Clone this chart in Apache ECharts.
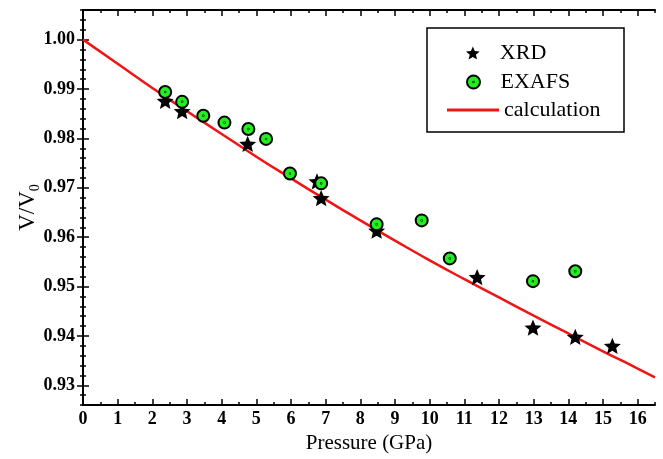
<!DOCTYPE html>
<html><head><meta charset="utf-8">
<script src="https://cdn.jsdelivr.net/npm/echarts@6/dist/echarts.min.js"></script>
<style>html,body{margin:0;padding:0;background:#fff}#c{width:663px;height:459px}</style>
</head><body><div id="c"></div>
<script>
// ---- data ----
const xrdP   = [2.37, 2.86, 4.75, 6.75, 6.87, 8.47, 11.37, 12.98, 14.2, 15.27];
const xrdV   = [0.9876, 0.9855, 0.9789, 0.9713, 0.9679, 0.9613, 0.9519, 0.9417, 0.9398, 0.9380];
const exafsP = [2.37, 2.86, 3.47, 4.08, 4.77, 5.28, 5.97, 6.87, 8.47, 9.77, 10.58, 12.98, 14.2];
const exafsV = [0.9894, 0.9874, 0.9846, 0.9832, 0.9819, 0.9799, 0.9729, 0.9709, 0.9626, 0.9634, 0.9557, 0.9511, 0.9531];
const calcP  = [0, 1, 2, 3, 4, 5, 6, 7, 8, 9, 10, 11, 12, 13, 14, 15, 16, 16.5];
const calcV  = [1.0000, 0.9951, 0.9902, 0.9855, 0.9809, 0.9763, 0.9719, 0.9676, 0.9634, 0.9593, 0.9553, 0.9515, 0.9478, 0.9441, 0.9405, 0.9369, 0.9334, 0.9316];
const xTickLabels = ['0','1','2','3','4','5','6','7','8','9','10','11','12','13','14','15','16'];
const yTickLabels = ['0.93','0.94','0.95','0.96','0.97','0.98','0.99','1.00'];
const seriesNames = ['XRD', 'EXAFS', 'calculation'];
const xTitle = 'Pressure (GPa)';

const SERIF = 'Liberation Serif';
const STAR = 'path://M10,0 L12.645,6.36 L19.511,6.91 L14.28,11.391 L15.878,18.09 L10,14.5 L4.122,18.09 L5.72,11.391 L0.489,6.91 L7.355,6.36 Z';
const DOTCIRCLE = 'path://M0,10 A10,10 0 1,0 20,10 A10,10 0 1,0 0,10 Z M9.6,10 A0.4,0.4 0 1,0 10.4,10 A0.4,0.4 0 1,0 9.6,10 Z';

const X0 = 0, X1 = 16.5, Y0 = 0.926, Y1 = 1.006;
const xTickVals = xTickLabels.map(Number);
const yTickVals = yTickLabels.map(Number);

function xLab(v){ const i = xTickVals.findIndex(t => Math.abs(t - v) < 1e-6); return i >= 0 ? xTickLabels[i] : ''; }
function yLab(v){ const i = yTickVals.findIndex(t => Math.abs(t - v) < 1e-6); return i >= 0 ? yTickLabels[i] : ''; }

const lineStyleAx = { color: '#000', width: 2 };
function xAx(pos, major, show){
  return { type: 'value', position: pos, min: X0, max: X1, interval: major ? 1 : 0.5,
    axisLine: { show: show, lineStyle: lineStyleAx },
    axisTick: { show: true, inside: true, length: major ? 6 : 3, lineStyle: { color: '#000', width: 1.5 },
      customValues: major ? xTickVals : undefined },
    axisLabel: { show: major && pos === 'bottom', formatter: xLab, color: '#000', fontFamily: SERIF, fontWeight: 'bold', fontSize: 18, margin: 5,
      customValues: major ? xTickVals : undefined },
    splitLine: { show: false },
    name: (major && pos === 'bottom') ? xTitle : '', nameLocation: 'middle', nameGap: 26,
    nameTextStyle: { fontFamily: SERIF, fontSize: 21, color: '#000' } };
}
function yAx(pos, major, show){
  return { type: 'value', position: pos, min: Y0, max: Y1, interval: major ? 0.01 : 0.002,
    axisLine: { show: show, lineStyle: lineStyleAx },
    axisTick: { show: true, inside: true, length: major ? 6 : 3, lineStyle: { color: '#000', width: 1.5 },
      customValues: major ? yTickVals : undefined },
    axisLabel: { show: major && pos === 'left', formatter: yLab, color: '#000', fontFamily: SERIF, fontWeight: 'bold', fontSize: 18, margin: 8,
      customValues: major ? yTickVals : undefined },
    splitLine: { show: false },
    name: (major && pos === 'left') ? 'V/V{s|0}' : '', nameLocation: 'middle', nameGap: 41, nameMoveOverlap: false,
    nameTextStyle: { fontFamily: SERIF, fontSize: 23, color: '#000',
      rich: { s: { fontFamily: SERIF, fontSize: 14, color: '#000', padding: [14, 0, 0, 0] } } } };
}

function legendFor(name, left, top, w, h, icon){
  return { show: true, orient: 'vertical', left: left, top: top, padding: 0, itemWidth: w, itemHeight: h,
    data: [{ name: name, icon: icon }],
    selectedMode: false,
    textStyle: { fontFamily: SERIF, fontSize: 22, color: '#000', lineHeight: 24 } };
}

const chart = echarts.init(document.getElementById('c'), null, { renderer: 'canvas' });
chart.setOption({
  animation: false,
  backgroundColor: '#fff',
  grid: { left: 83, right: 8, top: 10, bottom: 49, containLabel: false },
  xAxis: [ xAx('bottom', true, true), xAx('top', true, true), xAx('bottom', false, false), xAx('top', false, false) ],
  yAxis: [ yAx('left', true, true), yAx('right', true, true), yAx('left', false, false), yAx('right', false, false) ],
  legend: [
    legendFor(seriesNames[0], 466, 41, 44, 13, STAR),
    legendFor(seriesNames[1], 466, 70, 44, 13, DOTCIRCLE),
    legendFor(seriesNames[2], 447, 98, 52, 3, 'rect')
  ],
  graphic: [{ type: 'rect', shape: { x: 427, y: 28, width: 197, height: 104 }, style: { fill: 'none', stroke: '#000', lineWidth: 1.5 }, z: 10 }],
  series: [
    { name: seriesNames[2], type: 'line', xAxisIndex: 0, yAxisIndex: 0, showSymbol: false, symbol: 'none', smooth: true,
      lineStyle: { color: '#f01414', width: 2.5 }, itemStyle: { color: '#f01414' },
      data: calcP.map((p, i) => [p, calcV[i]]), z: 2 },
    { name: seriesNames[0], type: 'scatter', xAxisIndex: 0, yAxisIndex: 0, symbol: STAR, symbolSize: 17, symbolKeepAspect: true,
      itemStyle: { color: '#000', opacity: 1 }, data: xrdP.map((p, i) => [p, xrdV[i]]), z: 3 },
    { name: seriesNames[1], type: 'scatter', xAxisIndex: 0, yAxisIndex: 0, symbol: DOTCIRCLE, symbolSize: 12, symbolKeepAspect: true,
      itemStyle: { color: '#22ee22', borderColor: '#000', borderWidth: 2, opacity: 1 }, data: exafsP.map((p, i) => [p, exafsV[i]]), z: 4 }
  ]
});
</script></body></html>
